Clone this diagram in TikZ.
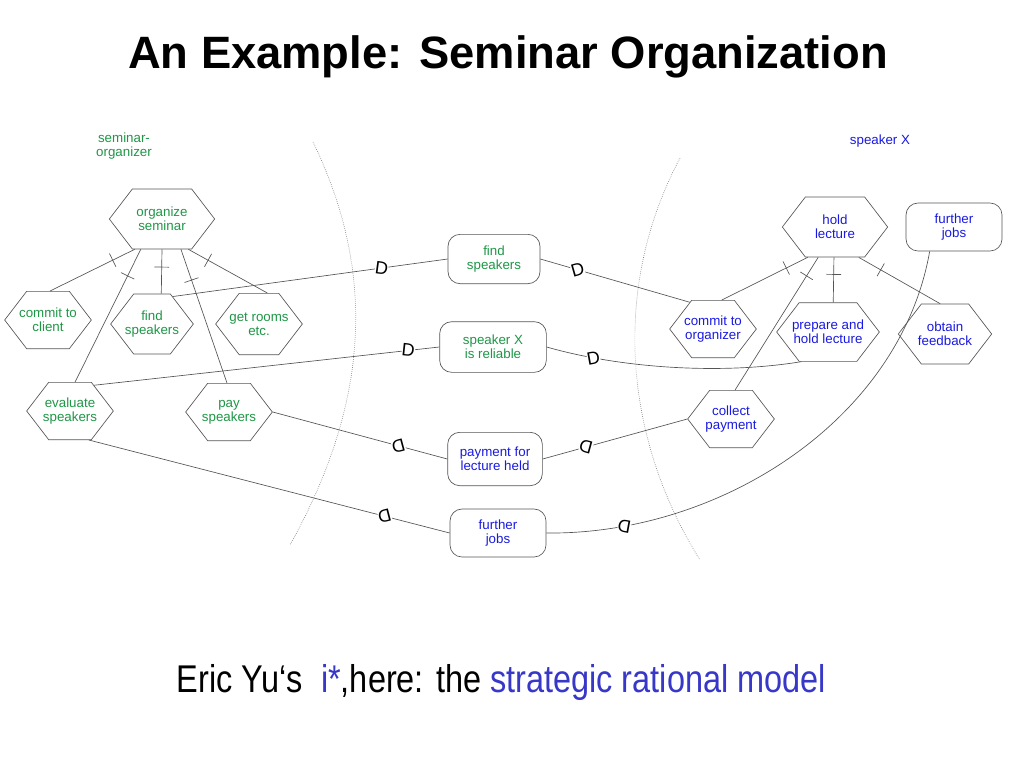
\documentclass[tikz,border=0pt]{standalone}
\usepackage{fontspec}
\setmainfont{Liberation Sans}
\newfontfamily\narrowfont[FakeStretch=0.84]{Liberation Sans}
\usetikzlibrary{shapes.symbols}
\usetikzlibrary{decorations.markings}
\definecolor{orgGreen}{RGB}{30,150,70}
\definecolor{spkBlue}{RGB}{25,25,225}
\definecolor{modelBlue}{RGB}{55,55,200}
\definecolor{lineGray}{RGB}{85,85,85}

\begin{document}
\begin{tikzpicture}[x=0.75pt,y=0.75pt,yscale=-1,xscale=1,
  task/.style={signal, signal to=west and east, signal pointer angle=105, draw=lineGray, line width=0.5pt, inner xsep=-8pt, inner ysep=1pt, align=center, font=\fontsize{10}{10.5}\selectfont},
  res/.style={rectangle, rounded corners=9pt, draw=lineGray, line width=0.5pt, inner sep=1pt, align=center, font=\fontsize{10}{10.5}\selectfont},
  link/.style={draw=lineGray, line width=0.5pt},
  decomp/.style={link, postaction={decorate, decoration={markings, mark=at position #1 with {\draw[lineGray, line width=0.5pt] (0,-5.5pt) -- (0,5.5pt);}}}},
  dep/.style={sloped, allow upside down, fill=white, inner sep=0pt, font=\fontsize{13.5}{13.5}\selectfont},
  boundary/.style={draw=gray, densely dotted, line width=0.5pt}]
\useasboundingbox (0,0) rectangle (1024,768);

% Text Node
\node[anchor=base, font=\fontsize{34}{40}\selectfont\bfseries] (titleText) at (508,68) {An Example: Seminar Organization};
% Text Node
\node[align=center, text=orgGreen, font=\fontsize{10}{11}\selectfont] (orgLabel) at (124,146) {seminar-\\organizer};
% Text Node
\node[text=spkBlue, font=\fontsize{10}{11}\selectfont] (spkLabel) at (880,141) {speaker X};

%Shape: Boundary arcs
\draw[boundary] (313,142) .. controls (380,280) and (365,410) .. (290,545);
\draw[boundary] (680,158) .. controls (610,290) and (625,440) .. (700,560);

%Shape: Hexagons of the seminar organizer
\node[task, text=orgGreen, minimum width=79pt, minimum height=45pt] (orgSem) at (162,219) {organize\\seminar};
\node[task, text=orgGreen, minimum width=65pt, minimum height=43pt] (commitClient) at (48,320) {commit to\\client};
\node[task, text=orgGreen, minimum width=62pt, minimum height=45pt] (findSpk) at (152,324) {find\\speakers};
\node[task, text=orgGreen, minimum width=65pt, minimum height=46pt] (getRooms) at (259,324) {get rooms\\etc.};
\node[task, text=orgGreen, minimum width=65pt, minimum height=43pt] (evalSpk) at (70,411) {evaluate\\speakers};
\node[task, text=orgGreen, minimum width=65pt, minimum height=43pt] (paySpk) at (229,412) {pay\\speakers};

%Shape: Hexagons of speaker X
\node[task, text=spkBlue, minimum width=79pt, minimum height=45pt] (holdLect) at (835,227) {hold\\lecture};
\node[res, text=spkBlue, minimum width=72pt, minimum height=36pt] (furtherJobsX) at (954,227) {further\\jobs};
\node[task, text=spkBlue, minimum width=65pt, minimum height=43pt] (commitOrg) at (713,329) {commit to\\organizer};
\node[task, text=spkBlue, minimum width=77pt, minimum height=44pt] (prepLect) at (828,332) {prepare and\\hold lecture};
\node[task, text=spkBlue, minimum width=70pt, minimum height=45pt] (obtainFb) at (945,334) {obtain\\feedback};
\node[task, text=spkBlue, minimum width=65pt, minimum height=43pt] (collectPay) at (731,419) {collect\\payment};

%Shape: Dependums
\node[res, text=orgGreen, minimum width=69pt, minimum height=37pt] (dFind) at (494,259) {find\\speakers};
\node[res, text=orgGreen, minimum width=80pt, minimum height=38pt] (dReliable) at (493,347) {speaker X\\is reliable};
\node[res, text=spkBlue, minimum width=71pt, minimum height=40pt] (dPayment) at (495,459) {payment for\\lecture held};
\node[res, text=spkBlue, minimum width=72pt, minimum height=36pt] (dJobs) at (498,533) {further\\jobs};

%Straight Lines: decompositions
\draw[decomp=0.26] (orgSem.228) -- (commitClient.86);
\draw[decomp=0.2] (orgSem.235) -- (evalSpk.80);
\draw[decomp=0.4] (orgSem.270) -- (findSpk.73);
\draw[decomp=0.23] (orgSem.302) -- (paySpk.94);
\draw[decomp=0.25] (orgSem.311) -- (getRooms.75);
\draw[decomp=0.25] (holdLect.228) -- (commitOrg.73);
\draw[decomp=0.14] (holdLect.241) -- (collectPay.82);
\draw[decomp=0.38] (holdLect.268) -- (prepLect.80);
\draw[decomp=0.27] (holdLect.308) -- (obtainFb.99);

%Straight Lines: dependencies
\draw[link] (findSpk.53) -- node[dep, pos=0.76] (dA) {D} (dFind.west);
\draw[link] (dFind.east) -- node[dep, pos=0.25] (dB) {D} (commitOrg.131);
\draw[link] (evalSpk.47) -- node[dep, pos=0.91] (dC) {D} (dReliable.west);
\draw[link] (dReliable.east) .. controls (620,368) and (720,375) .. node[dep, pos=0.2] (dD) {D} (prepLect.228);
\draw[link] (collectPay.west) -- node[dep, pos=0.7] (dE) {D} (dPayment.east);
\draw[link] (dPayment.west) -- node[dep, pos=0.28] (dF) {D} (paySpk.east);
\draw[link] (furtherJobsX.225) .. controls (900,420) and (720,535) .. node[dep, pos=0.85] (dG) {D} (dJobs.east);
\draw[link] (dJobs.west) -- node[dep, pos=0.18] (dH) {D} (evalSpk.303);

% Text Node
\node[anchor=base west, font=\narrowfont\fontsize{29}{34}\selectfont] (captionText) at (172,692) {Eric Yu‘s\ \ \textcolor{modelBlue}{i*},here: the \textcolor{modelBlue}{strategic rational model}};

\end{tikzpicture}
\end{document}
